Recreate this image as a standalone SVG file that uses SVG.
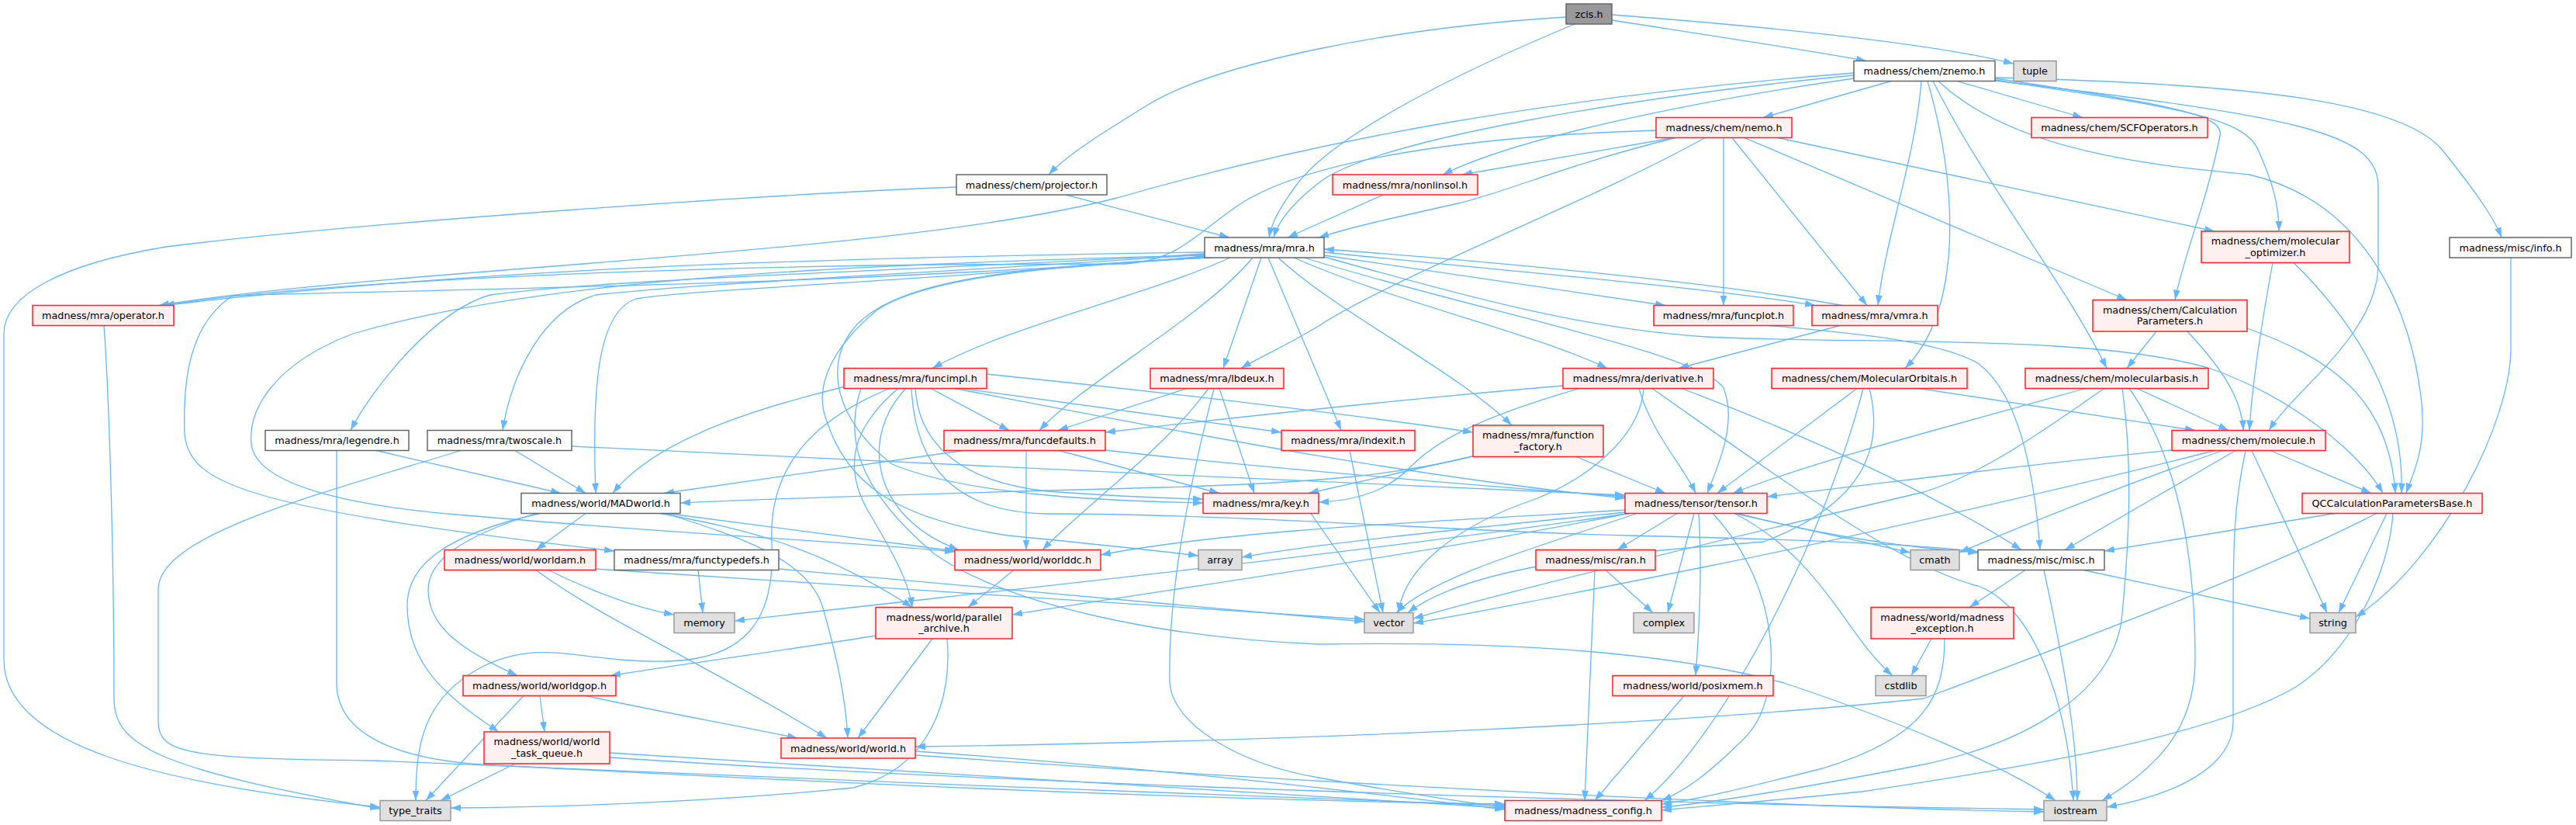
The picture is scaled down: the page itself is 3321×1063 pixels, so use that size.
<svg xmlns="http://www.w3.org/2000/svg" width="3321" height="1063" viewBox="0 0 3321 1063">
<style>
.e{fill:none;stroke:#63B8FF;stroke-width:1.3;marker-end:url(#ah)}
.w{fill:#ffffff;stroke:#666666;stroke-width:1.5}
.r{fill:#FFF0F0;stroke:#FF2020;stroke-width:1.5}
.g{fill:#E0E0E0;stroke:#999999;stroke-width:1.5}
.root{fill:#999999;stroke:#666666;stroke-width:1.5}
text{font-family:"DejaVu Sans","Liberation Sans",sans-serif;font-size:12.8px;fill:#000;text-anchor:middle}
</style>
<defs>
<marker id="ah" markerUnits="userSpaceOnUse" markerWidth="13" markerHeight="9" refX="13" refY="4.5" orient="auto">
<path d="M0,0 L13,4.5 L0,9 z" fill="#63B8FF"/>
</marker>
</defs>
<rect width="3321" height="1063" fill="#ffffff"/>
<g id="edges">
<path class="e" d="M2019,22 C1800,35 1570,80 1480,135 C1420,172 1375,200 1352,225"/>
<path class="e" d="M2030,31 C1900,85 1720,170 1670,240 C1650,268 1640,285 1636,306"/>
<path class="e" d="M2078,26 C2220,48 2340,66 2406,78.5"/>
<path class="e" d="M2078,19 C2300,36 2500,58 2596,82"/>
<path class="e" d="M2438,104.5 L2273,151.5"/>
<path class="e" d="M2523,104.5 L2685,151.5"/>
<path class="e" d="M2390,101 C2200,128 1960,175 1860,225"/>
<path class="e" d="M2390,97 C2100,125 1780,180 1705,232 C1665,262 1648,285 1642,306"/>
<path class="e" d="M2390,94 C2000,125 1700,180 1440,255 C1150,330 500,345 205,393.5"/>
<path class="e" d="M2477,104.5 C2470,200 2430,310 2421,393.5"/>
<path class="e" d="M2485,104.5 C2525,240 2530,400 2456,474.5"/>
<path class="e" d="M2492,104.5 C2560,240 2660,360 2716,474.5"/>
<path class="e" d="M2572,101 C2800,135 2868,148 2862,175 C2845,260 2815,330 2804,386.5"/>
<path class="e" d="M2572,103 C2800,138 2895,150 2912,195 C2930,235 2938,265 2938,298"/>
<path class="e" d="M2572,100 C2900,108 3100,130 3150,195 C3190,245 3215,280 3225,306"/>
<path class="e" d="M2499,104.5 C2600,200 2800,215 2900,225 C3050,260 3110,400 3122,520 C3128,580 3110,612 3102,635.5"/>
<path class="e" d="M2572,104 C2960,150 3066,170 3066,240 L3066,340 C3066,430 2960,500 2925,554.5"/>
<path class="e" d="M1374,251 L1585,306"/>
<path class="e" d="M1233,241 C1000,250 480,285 214,318 C80,340 5,380 5,430 L5,850 C5,960 200,1010 490,1040"/>
<path class="e" d="M2158,177.5 L1885,225"/>
<path class="e" d="M2160,177.5 C2010,215 1950,245 1880,262 C1790,282 1745,292 1700,306"/>
<path class="e" d="M2135,168 C1900,175 1690,205 1600,262 C1540,302 1520,336 1450,340 L1210,341 C900,344 420,360 212,393.5"/>
<path class="e" d="M2198,177.5 C2050,260 1800,355 1700,420 C1650,450 1620,462 1600,474.5"/>
<path class="e" d="M2222,177.5 L2222,393.5"/>
<path class="e" d="M2233,177.5 L2407,393.5"/>
<path class="e" d="M2249,177.5 L2742,386.5"/>
<path class="e" d="M2292,177.5 L2855,298"/>
<path class="e" d="M1783,251 L1660,306"/>
<path class="e" d="M1586,332 C1480,380 1300,420 1202,474.5"/>
<path class="e" d="M1626,332 L1577,474.5"/>
<path class="e" d="M1615,332 C1550,410 1400,490 1340,554.5"/>
<path class="e" d="M1635,332 L1729,554.5"/>
<path class="e" d="M1648,332 C1720,400 1880,480 1949,548"/>
<path class="e" d="M1668,332 C1800,390 1980,430 2072,474.5"/>
<path class="e" d="M1681,332 C1900,400 2195,455 2222,500 C2240,545 2215,600 2201,635.5"/>
<path class="e" d="M1707,329 L2147,393.5"/>
<path class="e" d="M1707,325 C1900,345 2200,370 2340,393.5"/>
<path class="e" d="M2375,393.5 C2200,362 1900,335 1707,321"/>
<path class="e" d="M1707,331 C1900,385 2050,425 2200,434 C2400,444 2700,430 2850,475 C2950,510 3040,580 3072,635.5"/>
<path class="e" d="M1553,330 C1200,362 900,372 820,385 C775,400 762,480 768,635.5"/>
<path class="e" d="M1553,328 C1200,352 900,365 768,380 C700,400 660,480 648,554.5"/>
<path class="e" d="M1553,327 C1200,348 800,358 632,380 C560,400 480,500 452,554.5"/>
<path class="e" d="M1553,331 C1100,368 500,374 300,381 C240,420 236,500 238,560 C245,625 320,655 792,710"/>
<path class="e" d="M1553,329 C1100,340 700,358 455,430 C350,470 320,530 324,572 C330,625 450,652 600,664 C900,690 1100,698 1231,711"/>
<path class="e" d="M1553,325 C1000,333 600,348 212,393.5"/>
<path class="e" d="M1560,332 C1400,340 1200,352 1130,400 C1070,450 1050,500 1065,540 C1090,620 1150,668 1300,690 C1400,700 1480,708 1545,716"/>
<path class="e" d="M1556,332 C1300,344 1160,362 1105,418 C1060,465 1075,540 1150,598 C1250,640 1450,646 1551,648"/>
<path class="e" d="M1090,498 C1000,520 850,560 790,635.5"/>
<path class="e" d="M1147,500.5 C1050,540 990,600 995,700 C1000,800 960,850 860,852 C750,855 700,820 620,860 C545,900 536,960 536,1031.5"/>
<path class="e" d="M1158,500.5 C1100,550 1085,600 1120,660 C1150,710 1172,750 1176,782.5"/>
<path class="e" d="M1168,500.5 C1110,560 1120,665 1236,708.5"/>
<path class="e" d="M1175,500.5 C1180,600 1230,660 1350,662 C1600,662 1900,686 2100,690 C2350,696 2480,702 2550,711"/>
<path class="e" d="M1180,500.5 C1185,580 1250,622 1350,633 C1450,640 1500,642 1551,643"/>
<path class="e" d="M1200,500.5 L1301,554.5"/>
<path class="e" d="M1231,500.5 C1500,552 1800,612 2095,642"/>
<path class="e" d="M1272,482 C1500,505 1750,535 1899,557"/>
<path class="e" d="M1240,500.5 L1652,557"/>
<path class="e" d="M1110,500.5 C1090,560 1100,625 1205,714 C1300,780 1500,822 1700,830 C1950,826 2150,840 2300,880 C2450,930 2580,985 2650,1031.5"/>
<path class="e" d="M1530,500.5 L1364,554.5"/>
<path class="e" d="M1558,500.5 C1500,580 1400,650 1344,708.5"/>
<path class="e" d="M1572,500.5 L1617,635.5"/>
<path class="e" d="M1565,500.5 C1540,600 1505,750 1508,880 C1512,935 1600,985 1700,1002 C1800,1020 1880,1033 1940,1040"/>
<path class="e" d="M2015,497 C1800,515 1600,537 1425,557"/>
<path class="e" d="M2036,500.5 C1900,540 1850,570 1820,600 C1790,632 1750,645 1700,647"/>
<path class="e" d="M1899,588 C1800,612 1700,622 1500,628 C1200,636 1000,642 877,648"/>
<path class="e" d="M2113,500.5 C2130,560 2170,600 2186,635.5"/>
<path class="e" d="M2168,500.5 C2350,570 2500,640 2606,708.5"/>
<path class="e" d="M2119,500.5 C2115,560 2050,620 1960,650 C1880,680 1810,730 1803,789.5"/>
<path class="e" d="M2130,500.5 C2300,620 2450,730 2550,755 C2620,780 2665,900 2673,1031.5"/>
<path class="e" d="M2394,500.5 L2214,635.5"/>
<path class="e" d="M2410,500.5 C2430,580 2400,650 2274,698 C2100,712 1900,725 1815,789.5"/>
<path class="e" d="M2474,500.5 L2830,554.5"/>
<path class="e" d="M2402,500.5 C2350,700 2220,950 2120,1031.5"/>
<path class="e" d="M2688,500.5 C2550,540 2350,590 2234,635.5"/>
<path class="e" d="M2713,500.5 C2640,550 2560,610 2480,634 C2200,700 1950,760 1822,797"/>
<path class="e" d="M2755,500.5 L2873,554.5"/>
<path class="e" d="M2745,500.5 C2830,620 2830,800 2830,850 C2830,940 2780,990 2710,1031.5"/>
<path class="e" d="M2736,500.5 C2750,600 2745,700 2735,800 C2720,900 2600,960 2480,985 C2300,1020 2200,1035 2142,1040"/>
<path class="e" d="M2800,580 C2600,600 2450,620 2278,640"/>
<path class="e" d="M2855,580.5 C2700,620 2400,690 2200,730 C2000,770 1900,790 1822,803"/>
<path class="e" d="M2866,580.5 C2750,620 2600,680 2526,712"/>
<path class="e" d="M2882,580.5 L2662,708.5"/>
<path class="e" d="M2895,580.5 C2880,650 2879,700 2879,800 L2879,930 C2879,990 2800,1025 2716,1040"/>
<path class="e" d="M2903,580.5 L3000,789.5"/>
<path class="e" d="M2927,580.5 L3057,635.5"/>
<path class="e" d="M3010,661.5 L2713,710"/>
<path class="e" d="M3077,661.5 L3015,789.5"/>
<path class="e" d="M3085,661.5 C3080,740 3030,840 2960,885 C2850,950 2600,990 2400,1020 C2250,1035 2180,1040 2142,1044"/>
<path class="e" d="M3064,661.5 C2950,720 2800,780 2480,900 C2200,930 1700,955 1180,962"/>
<path class="e" d="M3237,332 L3237,450 C3237,540 3150,720 3037,795"/>
<path class="e" d="M2930,338.5 C2915,420 2903,500 2900,554.5"/>
<path class="e" d="M2957,338.5 C3040,420 3100,520 3096,635.5"/>
<path class="e" d="M2780,427 L2742,474.5"/>
<path class="e" d="M2820,427 C2860,470 2890,510 2892,554.5"/>
<path class="e" d="M2897,423 C3000,460 3080,510 3088,635.5"/>
<path class="e" d="M2281,419.5 C2400,430 2500,440 2550,468 C2600,505 2622,600 2630,708.5"/>
<path class="e" d="M2372,419.5 L2164,474.5"/>
<path class="e" d="M1740,580.5 L1783,789.5"/>
<path class="e" d="M1898,588 L1687,635.5"/>
<path class="e" d="M2032,588.5 L2147,635.5"/>
<path class="e" d="M1242,580.5 L856,635.5"/>
<path class="e" d="M1323,580.5 L1323,708.5"/>
<path class="e" d="M1365,580.5 L1572,635.5"/>
<path class="e" d="M1425,580 C1600,600 1900,625 2095,640"/>
<path class="e" d="M664,580.5 L755,635.5"/>
<path class="e" d="M594,580.5 C400,640 204,690 204,760 L204,930 C204,970 240,978 482,980 C900,995 1500,1025 1940,1038"/>
<path class="e" d="M737,575 C1000,590 1700,620 2095,638"/>
<path class="e" d="M485,580.5 L723,635.5"/>
<path class="e" d="M434,580.5 L434,880 C434,950 520,978 620,985 C1000,1005 1500,1030 1940,1036"/>
<path class="e" d="M134,419.5 C140,500 147,700 147,900 C147,960 200,990 490,1042"/>
<path class="e" d="M755,661.5 L691,708.5"/>
<path class="e" d="M691,661.5 C600,690 552,720 552,760 C552,810 600,840 667,870.5"/>
<path class="e" d="M696,661.5 C570,690 525,730 525,780 C525,860 580,900 643,943"/>
<path class="e" d="M857,661.5 C950,690 1040,720 1060,780 C1080,850 1090,900 1093,951"/>
<path class="e" d="M860,661.5 L1231,710"/>
<path class="e" d="M851,661.5 C950,680 1050,700 1176,782.5"/>
<path class="e" d="M691,734.5 C780,800 900,850 1066,951"/>
<path class="e" d="M707,734.5 C780,770 830,785 869,792"/>
<path class="e" d="M767,733 C1100,755 1500,780 1759,798"/>
<path class="e" d="M900,734.5 L906,789.5"/>
<path class="e" d="M1004,733 C1300,760 1600,785 1759,801"/>
<path class="e" d="M1307,734.5 L1248,782.5"/>
<path class="e" d="M1129,819 C1000,840 850,860 787,870.5"/>
<path class="e" d="M1202,823 L1106,951"/>
<path class="e" d="M1221,823 C1228,900 1200,990 1100,1015 C900,1035 700,1040 581,1041"/>
<path class="e" d="M675,896.5 L549,1031.5"/>
<path class="e" d="M696,896.5 L702,943"/>
<path class="e" d="M755,896.5 C840,915 950,935 1028,951"/>
<path class="e" d="M664,984 L568,1031.5"/>
<path class="e" d="M786,970 C1100,990 1600,1020 1940,1041"/>
<path class="e" d="M786,976 C1300,1010 2100,1035 2635,1043"/>
<path class="e" d="M1180,968 C1500,990 1750,1020 1940,1043"/>
<path class="e" d="M1180,973 C1700,1010 2300,1040 2635,1046"/>
<path class="e" d="M2056,734.5 L2043,1031.5"/>
<path class="e" d="M2070,734.5 L2131,789.5"/>
<path class="e" d="M2171,896.5 L2056,1031.5"/>
<path class="e" d="M2162,661.5 L2085,708.5"/>
<path class="e" d="M2184,661.5 L2150,789.5"/>
<path class="e" d="M2190,661.5 C2195,740 2190,820 2186,870.5"/>
<path class="e" d="M2208,661.5 C2300,760 2300,900 2250,950 C2200,1000 2170,1020 2142,1031.5"/>
<path class="e" d="M2236,661.5 C2350,720 2380,820 2440,870.5"/>
<path class="e" d="M2236,661.5 L2463,712"/>
<path class="e" d="M2240,661.5 C2350,690 2450,705 2550,712"/>
<path class="e" d="M2110,661.5 C2000,700 1850,740 1800,789.5"/>
<path class="e" d="M2095,660 C1900,680 1700,700 1601,718"/>
<path class="e" d="M2096,657 C1900,670 1600,680 1419,715"/>
<path class="e" d="M2100,661.5 C1700,720 1200,770 947,800"/>
<path class="e" d="M2100,661.5 C1800,720 1500,760 1305,792"/>
<path class="e" d="M1690,661.5 L1779,789.5"/>
<path class="e" d="M2611,734.5 L2539,782.5"/>
<path class="e" d="M2635,734.5 C2660,850 2678,950 2678,1031.5"/>
<path class="e" d="M2686,734.5 L2978,797"/>
<path class="e" d="M2490,823 L2464,870.5"/>
<path class="e" d="M2507,823 C2507,900 2480,950 2350,990 C2250,1015 2190,1030 2142,1036"/>
</g>
<g id="node-zcis"><rect class="root" x="2019" y="5" width="59" height="26"/><text x="2048.5" y="22.5">zcis.h</text></g>
<g id="node-tuple"><rect class="g" x="2596" y="78.5" width="55" height="26"/><text x="2623.5" y="96">tuple</text></g>
<g id="node-znemo"><rect class="w" x="2390" y="78.5" width="182" height="26"/><text x="2481" y="96">madness/chem/znemo.h</text></g>
<g id="node-projector"><rect class="w" x="1233" y="225" width="194" height="26"/><text x="1330" y="242.5">madness/chem/projector.h</text></g>
<g id="node-nemo"><rect class="r" x="2135" y="151.5" width="175" height="26"/><text x="2222.5" y="169">madness/chem/nemo.h</text></g>
<g id="node-scf"><rect class="r" x="2619" y="151.5" width="227" height="26"/><text x="2732.5" y="169">madness/chem/SCFOperators.h</text></g>
<g id="node-nonlinsol"><rect class="r" x="1718" y="225" width="187" height="26"/><text x="1811.5" y="242.5">madness/mra/nonlinsol.h</text></g>
<g id="node-mra"><rect class="w" x="1553" y="306" width="154" height="26"/><text x="1630" y="323.5">madness/mra/mra.h</text></g>
<g id="node-molopt"><rect class="r" x="2838" y="298" width="191" height="40.5"/><text x="2933.5" y="315">madness/chem/molecular</text><text x="2933.5" y="329.5">_optimizer.h</text></g>
<g id="node-info"><rect class="w" x="3158" y="306" width="157" height="26"/><text x="3236.5" y="323.5">madness/misc/info.h</text></g>
<g id="node-operator"><rect class="r" x="42" y="393.5" width="182" height="26"/><text x="133" y="411">madness/mra/operator.h</text></g>
<g id="node-funcplot"><rect class="r" x="2132" y="393.5" width="180" height="26"/><text x="2222" y="411">madness/mra/funcplot.h</text></g>
<g id="node-vmra"><rect class="r" x="2336" y="393.5" width="162" height="26"/><text x="2417" y="411">madness/mra/vmra.h</text></g>
<g id="node-calcparams"><rect class="r" x="2698" y="386.5" width="199" height="40.5"/><text x="2797.5" y="403.5">madness/chem/Calculation</text><text x="2797.5" y="418">Parameters.h</text></g>
<g id="node-funcimpl"><rect class="r" x="1088" y="474.5" width="184" height="26"/><text x="1180" y="492">madness/mra/funcimpl.h</text></g>
<g id="node-lbdeux"><rect class="r" x="1483" y="474.5" width="172" height="26"/><text x="1569" y="492">madness/mra/lbdeux.h</text></g>
<g id="node-derivative"><rect class="r" x="2015" y="474.5" width="194" height="26"/><text x="2112" y="492">madness/mra/derivative.h</text></g>
<g id="node-molorb"><rect class="r" x="2284" y="474.5" width="252" height="26"/><text x="2410" y="492">madness/chem/MolecularOrbitals.h</text></g>
<g id="node-molbasis"><rect class="r" x="2611" y="474.5" width="236" height="26"/><text x="2729" y="492">madness/chem/molecularbasis.h</text></g>
<g id="node-legendre"><rect class="w" x="342" y="554.5" width="185" height="26"/><text x="434.5" y="572">madness/mra/legendre.h</text></g>
<g id="node-twoscale"><rect class="w" x="551" y="554.5" width="186" height="26"/><text x="644" y="572">madness/mra/twoscale.h</text></g>
<g id="node-funcdefaults"><rect class="r" x="1217" y="554.5" width="208" height="26"/><text x="1321" y="572">madness/mra/funcdefaults.h</text></g>
<g id="node-indexit"><rect class="r" x="1652" y="554.5" width="172" height="26"/><text x="1738" y="572">madness/mra/indexit.h</text></g>
<g id="node-funcfactory"><rect class="r" x="1899" y="548" width="168" height="40.5"/><text x="1983" y="565">madness/mra/function</text><text x="1983" y="579.5">_factory.h</text></g>
<g id="node-molecule"><rect class="r" x="2800" y="554.5" width="198" height="26"/><text x="2899" y="572">madness/chem/molecule.h</text></g>
<g id="node-madworld"><rect class="w" x="672" y="635.5" width="205" height="26"/><text x="774.5" y="653">madness/world/MADworld.h</text></g>
<g id="node-key"><rect class="r" x="1551" y="635.5" width="149" height="26"/><text x="1625.5" y="653">madness/mra/key.h</text></g>
<g id="node-tensor"><rect class="r" x="2095" y="635.5" width="183" height="26"/><text x="2186.5" y="653">madness/tensor/tensor.h</text></g>
<g id="node-qccalc"><rect class="r" x="2968" y="635.5" width="232" height="26"/><text x="3084" y="653">QCCalculationParametersBase.h</text></g>
<g id="node-worldam"><rect class="r" x="573" y="708.5" width="195" height="26"/><text x="670.5" y="726">madness/world/worldam.h</text></g>
<g id="node-functypedefs"><rect class="w" x="792" y="708.5" width="212" height="26"/><text x="898" y="726">madness/mra/functypedefs.h</text></g>
<g id="node-worlddc"><rect class="r" x="1231" y="708.5" width="188" height="26"/><text x="1325" y="726">madness/world/worlddc.h</text></g>
<g id="node-array"><rect class="g" x="1545" y="708.5" width="56" height="26"/><text x="1573" y="726">array</text></g>
<g id="node-ran"><rect class="r" x="1980" y="708.5" width="154" height="26"/><text x="2057" y="726">madness/misc/ran.h</text></g>
<g id="node-cmath"><rect class="g" x="2463" y="708.5" width="63" height="26"/><text x="2494.5" y="726">cmath</text></g>
<g id="node-misc"><rect class="w" x="2550" y="708.5" width="163" height="26"/><text x="2631.5" y="726">madness/misc/misc.h</text></g>
<g id="node-memory"><rect class="g" x="869" y="789.5" width="78" height="26"/><text x="908" y="807">memory</text></g>
<g id="node-parallel"><rect class="r" x="1129" y="782.5" width="176" height="40.5"/><text x="1217" y="799.5">madness/world/parallel</text><text x="1217" y="814">_archive.h</text></g>
<g id="node-vector"><rect class="g" x="1759" y="789.5" width="63" height="26"/><text x="1790.5" y="807">vector</text></g>
<g id="node-complex"><rect class="g" x="2106" y="789.5" width="78" height="26"/><text x="2145" y="807">complex</text></g>
<g id="node-madexc"><rect class="r" x="2412" y="782.5" width="184" height="40.5"/><text x="2504" y="799.5">madness/world/madness</text><text x="2504" y="814">_exception.h</text></g>
<g id="node-string"><rect class="g" x="2978" y="789.5" width="59" height="26"/><text x="3007.5" y="807">string</text></g>
<g id="node-worldgop"><rect class="r" x="597" y="870.5" width="197" height="26"/><text x="695.5" y="888">madness/world/worldgop.h</text></g>
<g id="node-posixmem"><rect class="r" x="2079" y="870.5" width="207" height="26"/><text x="2182.5" y="888">madness/world/posixmem.h</text></g>
<g id="node-cstdlib"><rect class="g" x="2418" y="870.5" width="65" height="26"/><text x="2450.5" y="888">cstdlib</text></g>
<g id="node-taskq"><rect class="r" x="624" y="943" width="162" height="41"/><text x="705" y="960">madness/world/world</text><text x="705" y="974.5">_task_queue.h</text></g>
<g id="node-world"><rect class="r" x="1007" y="951" width="173" height="26"/><text x="1093.5" y="968.5">madness/world/world.h</text></g>
<g id="node-typetraits"><rect class="g" x="490" y="1031.5" width="91" height="26"/><text x="535.5" y="1049">type_traits</text></g>
<g id="node-config"><rect class="r" x="1940" y="1031.5" width="202" height="26"/><text x="2041" y="1049">madness/madness_config.h</text></g>
<g id="node-iostream"><rect class="g" x="2635" y="1031.5" width="81" height="26"/><text x="2675.5" y="1049">iostream</text></g>
</svg>
